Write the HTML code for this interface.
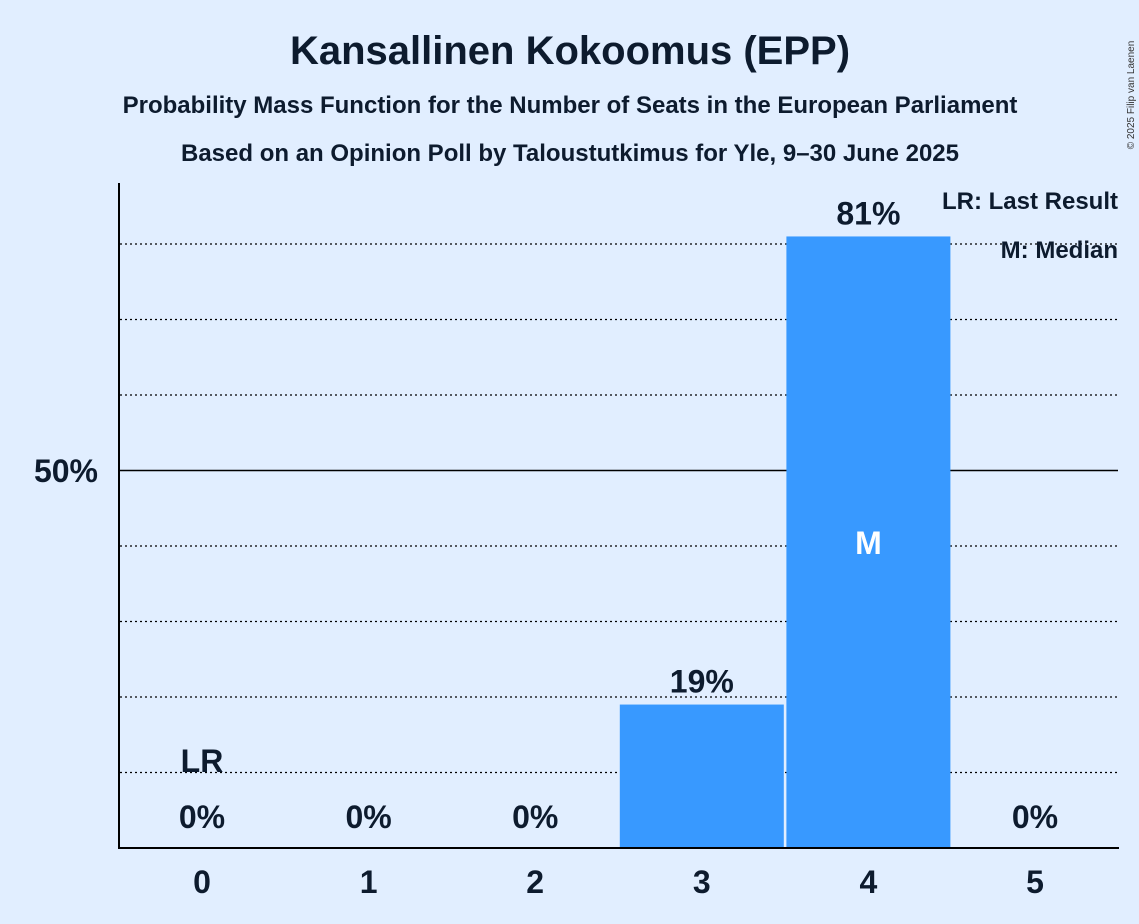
<!DOCTYPE html>
<html><head><meta charset="utf-8">
<style>
body{margin:0;background:#e1eeff;}
svg{display:block;font-family:"Liberation Sans",sans-serif;}
</style></head>
<body>
<svg id="chart" width="1139" height="924" viewBox="0 0 1139 924">
<rect width="1139" height="924" fill="#e1eeff"/>
<text x="570" y="64" text-anchor="middle" font-size="40" font-weight="bold" fill="#0d1b2e">Kansallinen Kokoomus (EPP)</text>
<text x="570" y="113" text-anchor="middle" font-size="24" font-weight="bold" fill="#0d1b2e">Probability Mass Function for the Number of Seats in the European Parliament</text>
<text x="570" y="161" text-anchor="middle" font-size="24" font-weight="bold" fill="#0d1b2e">Based on an Opinion Poll by Taloustutkimus for Yle, 9–30 June 2025</text>
<text transform="translate(1134,95) rotate(-90)" text-anchor="middle" font-size="10" fill="#333">© 2025 Filip van Laenen</text>
<g id="grid"></g>
<g id="bars"></g>
<line x1="119" y1="183" x2="119" y2="849" stroke="#000" stroke-width="2"/>
<line x1="118" y1="848" x2="1119" y2="848" stroke="#000" stroke-width="2"/>
<text x="98" y="482" text-anchor="end" font-size="32" font-weight="bold" fill="#0d1b2e">50%</text>
<text x="1118" y="209" text-anchor="end" font-size="24" font-weight="bold" fill="#0d1b2e">LR: Last Result</text>
<text x="1118" y="258" text-anchor="end" font-size="24" font-weight="bold" fill="#0d1b2e">M: Median</text>
</svg>
<script>
const categories = [0, 1, 2, 3, 4, 5];
const values = [0, 0, 0, 19, 81, 0];
const labels = ["0%", "0%", "0%", "19%", "81%", "0%"];
const lastResult = 0;
const median = 4;
const gridTicks = [10, 20, 30, 40, 50, 60, 70, 80];

const NS = "http://www.w3.org/2000/svg";
const y = v => 848 - v * 7.55;
const x = c => 202 + c * 166.6;
const bw = 164;
function mk(tag, attrs, parent, txt){
  const e = document.createElementNS(NS, tag);
  for (const k in attrs) e.setAttribute(k, attrs[k]);
  if (txt !== undefined) e.textContent = txt;
  parent.appendChild(e); return e;
}
const grid = document.getElementById("grid");
gridTicks.forEach(t => {
  const l = mk("line", {x1:120, x2:1118, y1:y(t), y2:y(t), stroke:"#000", "stroke-width": t===50?1.5:1.2, "stroke-dasharray": t===50?"none":"2,3"}, grid);
  
  
});
const bars = document.getElementById("bars");
categories.forEach((c, i) => {
  const v = values[i];
  if (v > 0) {
    const r = mk("rect", {x:x(c)-bw/2, y:y(v), width:bw, height:848-y(v), fill:"#3899ff"}, bars);
    
    
  }
  const ly = v > 0 ? y(v) - 12 : 828;
  const t = mk("text", {x:x(c), y:ly, "text-anchor":"middle", "font-size":32, "font-weight":"bold", fill:"#0d1b2e"}, bars, labels[i]);
  
  
  const xt = mk("text", {x:x(c), y:893, "text-anchor":"middle", "font-size":32, "font-weight":"bold", fill:"#0d1b2e"}, bars, String(c));
  
  
  if (c === lastResult) {
    const lr = mk("text", {x:x(c), y:772, "text-anchor":"middle", "font-size":32, "font-weight":"bold", fill:"#0d1b2e"}, bars, "LR");
    
    
  }
  if (c === median) {
    const m = mk("text", {x:x(c), y:y(values[i]/2)+12, "text-anchor":"middle", "font-size":32, "font-weight":"bold", fill:"#ffffff"}, bars, "M");
    
    
  }
});
</script>
</body></html>
